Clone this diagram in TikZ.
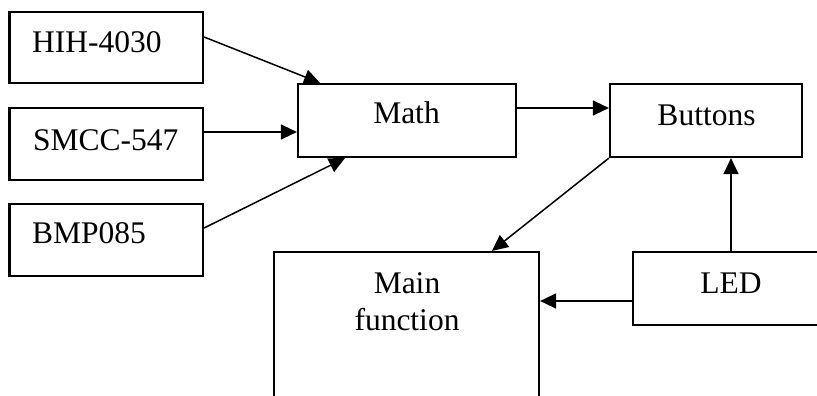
\documentclass[tikz,border=0pt]{standalone}
\usepackage{fontspec}
\setmainfont{Liberation Serif}
\usetikzlibrary{arrows.meta}
\begin{document}
\begin{tikzpicture}[x=1pt,y=-1pt,
  box/.style={draw, line width=2.2pt, rectangle, inner sep=0pt},
  txt/.style={inner sep=0pt, font=\fontsize{31.5}{37}\selectfont},
  arr/.style={line width=1.5pt, -{Triangle[length=16pt,width=15pt]}}]
\path[use as bounding box, clip] (0,0) rectangle (817,396);
\fill[white] (0,0) rectangle (817,396);
% boxes
\node[box, minimum width=193.5pt, minimum height=71pt] (hih) at (106.25,47.5) {};
\node[box, minimum width=193.5pt, minimum height=72pt] (smcc) at (106.25,144) {};
\node[box, minimum width=193.5pt, minimum height=72pt] (bmp) at (106.25,240) {};
\node[box, minimum width=218pt, minimum height=73pt] (math) at (407,120.5) {};
\node[box, minimum width=192pt, minimum height=73pt] (buttons) at (706,120.5) {};
\node[box, minimum width=265pt, minimum height=168pt] (main) at (406.5,336) {};
\node[box, minimum width=196pt, minimum height=73pt] (led) at (731,288.5) {};
% texts
\node[txt, anchor=base west] (thih) at (32,53) {HIH-4030};
\node[txt, anchor=base west] (tsmcc) at (33,150) {SMCC-547};
\node[txt, anchor=base west] (tbmp) at (32,243) {BMP085};
\node[txt, anchor=base] (tmath) at (406.5,124) {Math};
\node[txt, anchor=base] (tbuttons) at (706.5,125) {Buttons};
\node[txt, anchor=base] (tled) at (731,293) {LED};
\node[txt, anchor=base] (tmain1) at (407,293) {Main};
\node[txt, anchor=base] (tmain2) at (407,330) {function};
% connectors
\draw[arr] ([yshift=10.5pt]hih.east) -- ([xshift=-87pt]math.north);
\draw[arr] ([yshift=12pt]smcc.east) coordinate (s1) -- (math.west |- s1);
\draw[arr] ([yshift=12pt]bmp.east) -- ([xshift=-62pt]math.south);
\draw[arr] ([yshift=12.5pt]math.east) coordinate (m1) -- (buttons.west |- m1);
\draw[arr] (buttons.south west) -- ([xshift=85.5pt]main.north);
\draw[arr] (led.north) -- (led.north |- buttons.south);
\draw[arr] ([yshift=-12.5pt]led.west) coordinate (l1) -- (main.east |- l1);
\end{tikzpicture}
\end{document}
